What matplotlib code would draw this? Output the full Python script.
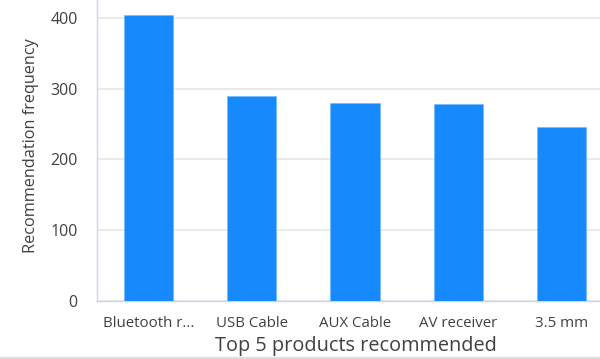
import matplotlib
matplotlib.use('Agg')
import matplotlib.pyplot as plt
import numpy as np

# Data
products = ['Bluetooth r...', 'USB Cable', 'AUX Cable', 'AV receiver', '3.5 mm']
frequency = [404, 290, 280, 278, 245]
y_ticks = [0, 100, 200, 300, 400]

bar_color = '#168afd'
text_color = '#404040'

plt.rcParams['font.family'] = ['Open Sans', 'DejaVu Sans']

fig = plt.figure(figsize=(6.0, 3.59), dpi=100)
# plot area in pixel terms: x 97..600, y 0..301
ax = fig.add_axes([97 / 600, 1 - 301 / 359, 503 / 600, 301 / 359])

x = np.arange(len(products))
ax.bar(x, frequency, width=0.475, color=bar_color, edgecolor='#6fb5fd',
       linewidth=0.4, zorder=3)

# category slots run past the right edge of the image (clipped chart)
ax.set_xlim(-0.5, 4.374)
ax.set_ylim(0, 425)
ax.set_yticks(y_ticks)
ax.set_xticks(x)
ax.set_xticklabels(products)

ax.yaxis.grid(True, color='#e6e6e6', linewidth=1.2, zorder=0)
ax.set_axisbelow(True)

for side in ['top', 'right']:
    ax.spines[side].set_visible(False)
ax.spines['left'].set_color('#ccd6eb')
ax.spines['bottom'].set_color('#ccd6eb')
ax.spines['left'].set_linewidth(1.0)
ax.spines['bottom'].set_linewidth(1.0)

ax.tick_params(axis='y', length=0, pad=14, labelsize=11.5, labelcolor=text_color)
ax.tick_params(axis='x', length=0, pad=11, labelsize=10.8, labelcolor=text_color)

ax.set_ylabel('Recommendation frequency', fontsize=11.7, color=text_color)
ax.set_xlabel('Top 5 products recommended', fontsize=14.3, color=text_color)
# labels are centred on the full plot area, which runs past the image edge
ax.yaxis.set_label_coords(-(97 - 31) / 503, (301 - 146) / 301)
ax.xaxis.set_label_coords((356 - 97) / 503, -(356 - 301) / 301)
ax.xaxis.label.set_va('bottom')
ax.yaxis.label.set_va('center')

# thin grey strip at the bottom edge of the screenshot
fig.patches.append(plt.Rectangle((0, 0), 1, 2 / 359, transform=fig.transFigure,
                                 color='#dcdcdc', zorder=10))

fig.savefig('out.png', dpi=100)
